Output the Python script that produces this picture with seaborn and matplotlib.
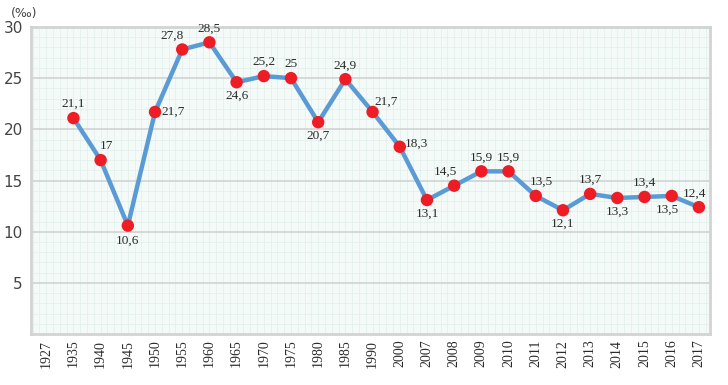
import numpy as np
import pandas as pd
import seaborn as sns
import matplotlib.pyplot as plt
from matplotlib.ticker import MultipleLocator

# data (per mille)
years = ["1927", "1935", "1940", "1945", "1950", "1955", "1960", "1965", "1970",
         "1975", "1980", "1985", "1990", "2000", "2007", "2008", "2009", "2010",
         "2011", "2012", "2013", "2014", "2015", "2016", "2017"]
rates = [np.nan, 21.1, 17.0, 10.6, 21.7, 27.8, 28.5, 24.6, 25.2,
         25.0, 20.7, 24.9, 21.7, 18.3, 13.1, 14.5, 15.9, 15.9,
         13.5, 12.1, 13.7, 13.3, 13.4, 13.5, 12.4]
labels = ["", "21,1", "17", "10,6", "21,7", "27,8", "28,5", "24,6", "25,2",
          "25", "20,7", "24,9", "21,7", "18,3", "13,1", "14,5", "15,9", "15,9",
          "13,5", "12,1", "13,7", "13,3", "13,4", "13,5", "12,4"]

# label offsets in points (dx, dy)
offsets = [(0, 0), (0, 10), (4, 10), (0, -11), (13, 0), (-7, 10), (0, 10), (0, -10), (0, 10),
           (0, 10), (0, -10), (0, 10), (10, 7), (12, 2), (0, -10), (-6, 10), (0, 10), (0, 10),
           (4, 10), (0, -10), (0, 10), (0, -10), (0, 10), (-3, -10), (-3, 10)]

df = pd.DataFrame({"year": years, "rate": rates})
df["pos"] = np.arange(len(years))

sns.set_style("white")
plt.rcParams["font.family"] = ["DejaVu Sans"]

fig = plt.figure(figsize=(7.28, 3.85), dpi=100)
ax = fig.add_axes([0.043, 0.132, 0.932, 0.798])
ax.set_facecolor("#f3faf8")

ax.set_xlim(-0.55, 24.4)
ax.set_ylim(0, 30)
ax.yaxis.set_major_locator(MultipleLocator(5))
ax.yaxis.set_minor_locator(MultipleLocator(1))
ax.set_xticks(df["pos"])
ax.xaxis.set_minor_locator(MultipleLocator(0.25))
ax.grid(which="minor", color="#e2efec", linewidth=0.5)
ax.grid(which="major", axis="y", color="#cfd3d2", linewidth=1.2)
ax.grid(which="major", axis="x", color="#e2efec", linewidth=0.5)
ax.set_axisbelow(True)

sns.lineplot(data=df, x="pos", y="rate", color="#5b9bd5", linewidth=3.2, ax=ax,
             solid_joinstyle="round", solid_capstyle="round")
sns.scatterplot(data=df, x="pos", y="rate", color="#ee1c25", s=80,
                edgecolor="none", zorder=5, ax=ax)

for p, r, lab, (dx, dy) in zip(df["pos"], df["rate"], labels, offsets):
    if np.isnan(r):
        continue
    ax.annotate(lab, (p, r), xytext=(dx, dy), textcoords="offset points",
                ha="center", va="center", fontsize=9.5, color="#2b2b2b",
                family="Liberation Serif")

ax.set_xticklabels(years, rotation=90, fontsize=10, family="Liberation Serif",
                   color="#2b2b2b")
ax.set_yticks([5, 10, 15, 20, 25, 30])
ax.tick_params(axis="y", labelsize=11, colors="#444444", length=0, pad=6)
ax.tick_params(axis="x", length=0, pad=4)
ax.set_xlabel("")
ax.set_ylabel("")

for side in ["left", "bottom", "top", "right"]:
    ax.spines[side].set_visible(True)
    ax.spines[side].set_color("#d2d4d4")
    ax.spines[side].set_linewidth(2)

fig.text(0.015, 0.965, "(‰)", fontsize=9, color="#444444", va="center")

fig.savefig("out.png", dpi=100)
